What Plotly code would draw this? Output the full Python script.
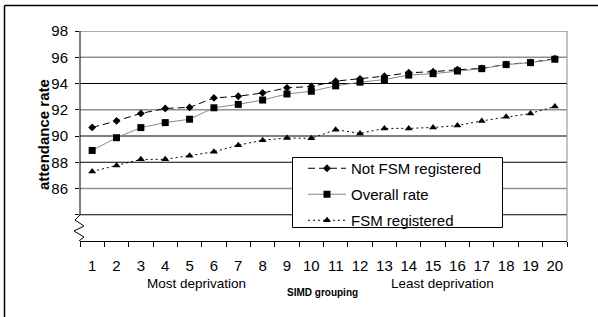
import plotly.graph_objects as go

categories = [str(i) for i in range(1, 21)]
not_fsm = [90.65, 91.15, 91.72, 92.1, 92.18, 92.9, 93.03, 93.28, 93.67, 93.77,
           94.18, 94.36, 94.56, 94.82, 94.9, 95.05, 95.15, 95.46, 95.6, 95.9]
overall = [88.9, 89.87, 90.64, 91.02, 91.28, 92.15, 92.41, 92.74, 93.2, 93.41,
           93.82, 94.1, 94.3, 94.64, 94.75, 94.95, 95.13, 95.44, 95.59, 95.85]
fsm = [87.3, 87.75, 88.22, 88.22, 88.5, 88.8, 89.3, 89.68, 89.85, 89.82,
       90.48, 90.2, 90.58, 90.58, 90.65, 90.8, 91.15, 91.46, 91.72, 92.25]
y_tickvals = [84, 86, 88, 90, 92, 94, 96, 98]
y_ticktext = ["", "86", "88", "90", "92", "94", "96", "98"]
grid_gray = [98, 96, 92, 86]

FONT = "Liberation Sans, Arial, sans-serif"

fig = go.Figure()
fig.add_trace(go.Scatter(x=categories, y=not_fsm, name="Not FSM registered", mode="lines+markers",
                         line=dict(color="black", width=1, dash="7px,4px"),
                         marker=dict(symbol="diamond", size=6, color="black"), legendgroup="a"))
fig.add_trace(go.Scatter(x=categories, y=overall, name="Overall rate", mode="lines+markers",
                         line=dict(color="#8a8a8a", width=1),
                         marker=dict(symbol="square", size=7, color="black"), legendgroup="b"))
fig.add_trace(go.Scatter(x=categories, y=fsm, name="FSM registered", mode="lines+markers",
                         line=dict(color="black", width=1, dash="2px,3px"),
                         marker=dict(symbol="triangle-up", size=7, color="black"), legendgroup="c"))

pw, ph = 487.0, 210.0
def px(xp, yp):
    return (xp - 80) / pw, (241 - yp) / ph

shapes = []
for v in y_tickvals:
    if v in grid_gray:
        shapes.append(dict(type="line", xref="paper", yref="y", x0=0, x1=1, y0=v, y1=v,
                           line=dict(color="#8f8f8f", width=1.6), layer="below"))
    else:
        shapes.append(dict(type="line", xref="paper", yref="y", x0=0, x1=1, y0=v, y1=v,
                           line=dict(color="black", width=1), layer="below"))
# right plot frame (gray)
shapes.append(dict(type="line", xref="paper", yref="paper", x0=1, x1=1, y0=0, y1=1,
                   line=dict(color="#8a8a8a", width=1)))
# y axis line with break
shapes.append(dict(type="line", xref="paper", yref="y", x0=0, x1=0, y0=84, y1=98,
                   line=dict(color="black", width=1)))
pts = [(80, 215), (75, 220), (84, 226), (74, 231), (84, 237), (79, 241)]
path = "M " + " L ".join("%.4f,%.4f" % px(a, b) for a, b in pts)
shapes.append(dict(type="path", xref="paper", yref="paper", path=path,
                   line=dict(color="black", width=1)))
# outer chart frame (left and top)
x0, y0 = px(4.5, 5.5)
x1, y1 = px(598, 320)
shapes.append(dict(type="line", xref="paper", yref="paper", x0=x0, x1=x0, y0=y0, y1=y1,
                   line=dict(color="black", width=1.5)))
shapes.append(dict(type="line", xref="paper", yref="paper", x0=x0, x1=x1, y0=y0, y1=y0,
                   line=dict(color="black", width=1.5)))
# legend box
lx0, ly0 = px(292.5, 157.5)
lx1, ly1 = px(502.5, 227.5)
shapes.append(dict(type="rect", xref="paper", yref="paper", x0=lx0, x1=lx1, y0=ly1, y1=ly0,
                   fillcolor="white", line=dict(color="black", width=1), layer="above"))

annotations = [
    dict(text="Most deprivation", x=px(145, 0)[0], y=px(0, 293)[1], xref="paper", yref="paper",
         showarrow=False, font=dict(family=FONT, size=13.5, color="black")),
    dict(text="Least deprivation", x=px(496, 0)[0], y=px(0, 293)[1], xref="paper", yref="paper",
         showarrow=False, font=dict(family=FONT, size=13.5, color="black")),
    dict(text="<b>SIMD grouping</b>", x=px(322, 0)[0], y=px(0, 300)[1], xref="paper", yref="paper",
         showarrow=False, font=dict(family=FONT, size=10, color="black")),
    dict(text="<b>attendance rate</b>", x=px(33, 0)[0], y=px(0, 134.5)[1], xref="paper", yref="paper",
         showarrow=False, textangle=-90, font=dict(family=FONT, size=15, color="black")),
]

fig.update_layout(
    width=598, height=317,
    margin=dict(l=80, r=31, t=31, b=76, autoexpand=False),
    paper_bgcolor="white", plot_bgcolor="white",
    font=dict(family=FONT, size=15, color="black"),
    showlegend=True,
    legend=dict(x=px(303, 0)[0], y=px(0, 152)[1], xanchor="left", yanchor="top",
                bgcolor="rgba(0,0,0,0)", borderwidth=0,
                font=dict(family=FONT, size=15, color="black"),
                tracegroupgap=3.5, itemwidth=38),
    shapes=shapes, annotations=annotations,
    xaxis=dict(type="category", range=[-0.5, 19.5], tickson="boundaries", ticks="outside",
               ticklen=5, tickcolor="black", showline=True, linecolor="black", linewidth=1,
               showgrid=False, ticklabelstandoff=11, tickangle=0, automargin=False,
               tickfont=dict(size=15)),
    yaxis=dict(range=[82, 98], tickvals=y_tickvals, ticktext=y_ticktext, ticks="outside",
               ticklen=4, tickcolor="black", showline=False, showgrid=False,
               zeroline=False, ticklabelstandoff=4,
               automargin=False, tickfont=dict(size=15)),
)

fig.write_html("out.html", config={"displayModeBar": False},
               post_script="document.body.style.margin='0px';document.body.style.padding='0px';")
